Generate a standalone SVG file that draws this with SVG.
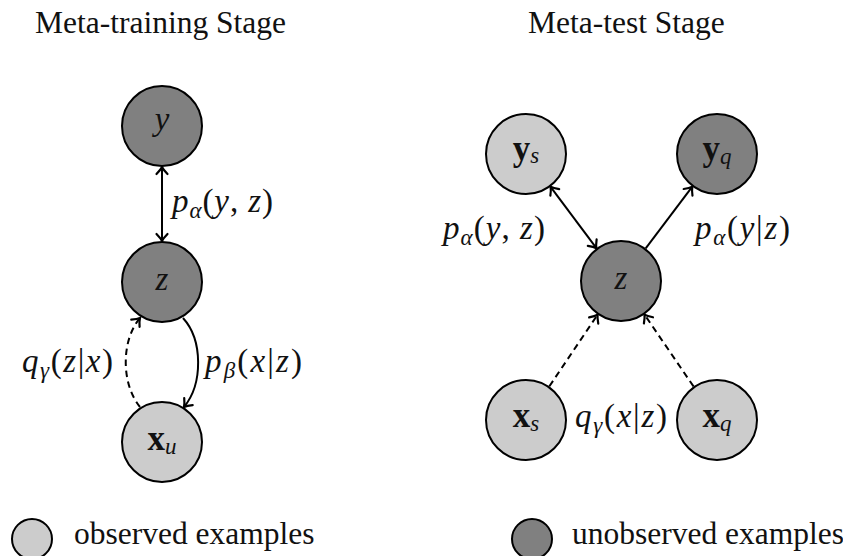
<svg xmlns="http://www.w3.org/2000/svg" width="843" height="556" viewBox="0 0 843 556" font-family="'Liberation Serif', 'DejaVu Serif', serif">
  <style>
    text { font-family: 'Liberation Serif', 'DejaVu Serif', serif; fill: #111; }
    .title { font-size: 31.5px; }
    .legend-text { font-size: 31.5px; }
    .node circle { stroke: #000; stroke-width: 2; }
    .obs { fill: #cccccc; }
    .unobs { fill: #808080; }
    .nl { font-size: 33px; text-anchor: middle; }
    .it { font-style: italic; }
    .bf { font-weight: bold; font-size: 35px; }
    .sub { font-size: 23px; font-style: italic; }
    .lbl { font-size: 33px; }
    .edge { fill: none; stroke: #000; stroke-width: 2; }
    .dashed { stroke-dasharray: 6.5 4.5; }
  </style>
  <defs>
    <marker id="tip" markerUnits="userSpaceOnUse" viewBox="-8 -6 10 12" refX="0" refY="0" markerWidth="10" markerHeight="12" orient="auto-start-reverse" overflow="visible">
      <path d="M-7,-5.5 Q-2.7,-1.3 0,0 Q-2.7,1.3 -7,5.5" fill="none" stroke="#000" stroke-width="2.2" stroke-linecap="round" stroke-dasharray="none"/>
    </marker>
  </defs>

  <rect width="843" height="556" fill="#fff"/>

  <!-- stage titles -->
  <text class="title" x="35" y="33">Meta-training Stage</text>
  <text class="title" x="528" y="33">Meta-test Stage</text>

  <!-- connectors -->
  <g id="connectors">
    <!-- meta-training -->
    <line class="edge" x1="162" y1="167" x2="162" y2="241" marker-start="url(#tip)" marker-end="url(#tip)"/>
    <path class="edge" d="M183,318 C203,340 203,384 184,407" marker-end="url(#tip)"/>
    <path class="edge dashed" d="M140,407 C121,384 121,340 140,318" marker-end="url(#tip)"/>
    <!-- meta-test -->
    <line class="edge" x1="550.6" y1="186.8" x2="596.4" y2="248.2" marker-start="url(#tip)" marker-end="url(#tip)" stroke-width="1.8"/>
    <line class="edge" x1="645.7" y1="248.3" x2="692.3" y2="186.7" marker-end="url(#tip)" stroke-width="1.8"/>
    <line class="edge dashed" x1="549.4" y1="386.3" x2="597.6" y2="314.7" marker-end="url(#tip)" stroke-width="1.8"/>
    <line class="edge dashed" x1="693.5" y1="386.4" x2="644.5" y2="314.6" marker-end="url(#tip)" stroke-width="1.8"/>
  </g>

  <!-- edge labels -->
  <g id="edge-labels">
    <text class="lbl" x="172" y="212" textLength="101"><tspan class="it">p</tspan><tspan class="sub" dy="6">α</tspan><tspan dy="-6">(</tspan><tspan class="it">y</tspan>,<tspan class="it"> z</tspan>)</text>
    <text class="lbl" x="22" y="372" textLength="91"><tspan class="it">q</tspan><tspan class="sub" dy="6">γ</tspan><tspan dy="-6">(</tspan><tspan class="it">z</tspan>|<tspan class="it">x</tspan>)</text>
    <text class="lbl" x="205" y="372" textLength="97"><tspan class="it">p</tspan><tspan class="sub" dy="6">β</tspan><tspan dy="-6">(</tspan><tspan class="it">x</tspan>|<tspan class="it">z</tspan>)</text>
    <text class="lbl" x="443" y="239" textLength="102"><tspan class="it">p</tspan><tspan class="sub" dy="6">α</tspan><tspan dy="-6">(</tspan><tspan class="it">y</tspan>,<tspan class="it"> z</tspan>)</text>
    <text class="lbl" x="695" y="239" textLength="95"><tspan class="it">p</tspan><tspan class="sub" dy="6">α</tspan><tspan dy="-6">(</tspan><tspan class="it">y</tspan>|<tspan class="it">z</tspan>)</text>
    <text class="lbl" x="575" y="427" textLength="92"><tspan class="it">q</tspan><tspan class="sub" dy="6">γ</tspan><tspan dy="-6">(</tspan><tspan class="it">x</tspan>|<tspan class="it">z</tspan>)</text>
  </g>

  <!-- meta-training nodes -->
  <g id="node-y" class="node">
    <circle class="unobs" cx="162" cy="126" r="40"/>
    <text class="nl it" x="162" y="130">y</text>
  </g>
  <g id="node-z-train" class="node">
    <circle class="unobs" cx="162" cy="282" r="40"/>
    <text class="nl it" x="162" y="290">z</text>
  </g>
  <g id="node-xu" class="node">
    <circle class="obs" cx="162" cy="442" r="40"/>
    <text class="nl" x="162" y="450"><tspan class="bf">x</tspan><tspan class="sub" dy="4">u</tspan></text>
  </g>

  <!-- meta-test nodes -->
  <g id="node-ys" class="node">
    <circle class="obs" cx="526" cy="154" r="40"/>
    <text class="nl" x="526" y="160"><tspan class="bf">y</tspan><tspan class="sub" dy="3">s</tspan></text>
  </g>
  <g id="node-yq" class="node">
    <circle class="unobs" cx="717" cy="154" r="40"/>
    <text class="nl" x="717" y="160"><tspan class="bf">y</tspan><tspan class="sub" dy="4">q</tspan></text>
  </g>
  <g id="node-z-test" class="node">
    <circle class="unobs" cx="621" cy="281" r="40"/>
    <text class="nl it" x="621" y="289">z</text>
  </g>
  <g id="node-xs" class="node">
    <circle class="obs" cx="526" cy="420" r="40"/>
    <text class="nl" x="526" y="427"><tspan class="bf">x</tspan><tspan class="sub" dy="4">s</tspan></text>
  </g>
  <g id="node-xq" class="node">
    <circle class="obs" cx="717" cy="420" r="40"/>
    <text class="nl" x="717" y="427"><tspan class="bf">x</tspan><tspan class="sub" dy="4">q</tspan></text>
  </g>

  <!-- legend -->
  <g id="legend" class="node">
    <circle class="obs" cx="32" cy="539" r="20"/>
    <text class="legend-text" x="74" y="544">observed examples</text>
    <circle class="unobs" cx="532" cy="539" r="20"/>
    <text class="legend-text" x="572" y="544">unobserved examples</text>
  </g>
</svg>
